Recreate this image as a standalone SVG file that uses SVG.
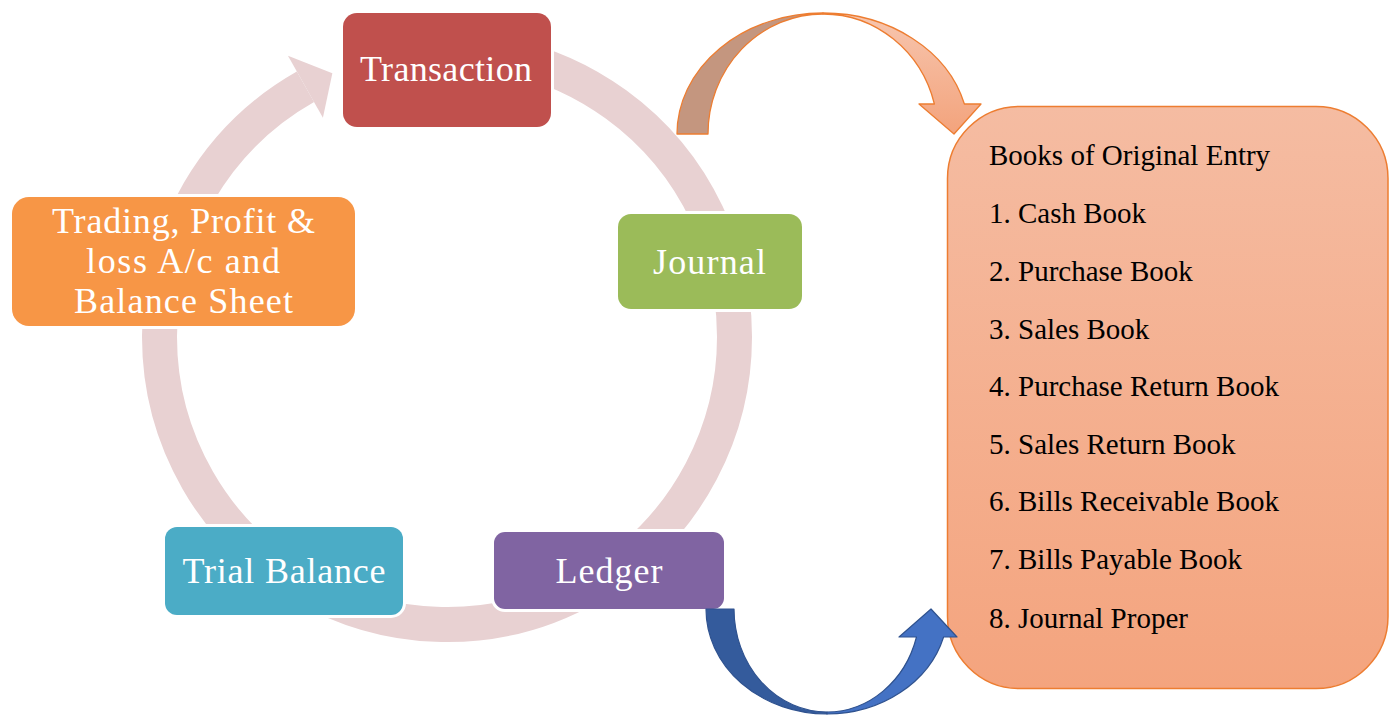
<svg xmlns="http://www.w3.org/2000/svg" width="1393" height="715" viewBox="0 0 1393 715">
  <style>
    .node rect { stroke: #ffffff; stroke-width: 6; paint-order: stroke; }
    .label { font-family: "Liberation Serif", "Times New Roman", serif; font-size: 36px; fill: #ffffff; text-anchor: middle; }
    .book { font-family: "Liberation Serif", "Times New Roman", serif; font-size: 29px; fill: #000000; }
    .ring { fill: none; stroke: #e8d1d2; stroke-width: 35; }
  </style>
  <defs>
    <linearGradient id="peach" x1="0" y1="106" x2="0" y2="689" gradientUnits="userSpaceOnUse">
      <stop offset="0" stop-color="#f5bca2"/>
      <stop offset="1" stop-color="#f4a47e"/>
    </linearGradient>
    <linearGradient id="peachArrow" x1="0" y1="13" x2="0" y2="134" gradientUnits="userSpaceOnUse">
      <stop offset="0" stop-color="#f7c6af"/>
      <stop offset="1" stop-color="#f3a37c"/>
    </linearGradient>
  </defs>

  <!-- cycle connectors: ring behind the nodes, arrowhead ends before Transaction -->
  <g id="connectors">
    <path class="ring" d="M358.16,63.57 A287.5,287.5 0 0 1 734.5,337 A287.5,287.5 0 0 1 303.25,585.98 A287.5,287.5 0 0 1 305.43,86.77"/>
    <polygon fill="#e8d1d2" points="287.95,55.87 332.36,73.34 322.91,117.67"/>
  </g>

  <!-- cycle nodes -->
  <g id="node-transaction" class="node">
    <rect x="343" y="13" width="208" height="114" rx="14" fill="#c0504d"/>
    <text class="label" x="446" y="81" textLength="172" lengthAdjust="spacing">Transaction</text>
  </g>
  <g id="node-journal" class="node">
    <rect x="618" y="214" width="184" height="95" rx="13" fill="#9bbb59"/>
    <text class="label" x="709.5" y="274" textLength="113" lengthAdjust="spacing">Journal</text>
  </g>
  <g id="node-ledger" class="node">
    <rect x="494" y="532" width="230" height="77" rx="11" fill="#8064a2"/>
    <text class="label" x="609" y="583" textLength="107" lengthAdjust="spacing">Ledger</text>
  </g>
  <g id="node-trial-balance" class="node">
    <rect x="165" y="527" width="238" height="88" rx="12" fill="#4bacc6"/>
    <text class="label" x="284" y="583" textLength="203" lengthAdjust="spacing">Trial Balance</text>
  </g>
  <g id="node-final-accounts" class="node">
    <rect x="12" y="197" width="343" height="129" rx="17" fill="#f79646"/>
    <text class="label" x="183.5" y="233" textLength="263" lengthAdjust="spacing">Trading, Profit &amp;</text>
    <text class="label" x="183" y="273" textLength="194" lengthAdjust="spacing">loss A/c and</text>
    <text class="label" x="183.5" y="313" textLength="219" lengthAdjust="spacing">Balance Sheet</text>
  </g>

  <!-- list of subsidiary books -->
  <g id="node-books">
    <rect x="947.5" y="106.5" width="440.5" height="582" rx="72" fill="url(#peach)" stroke="#ed7d31" stroke-width="1.5"/>
    <text class="book" x="989" y="165">Books of Original Entry</text>
    <text class="book" x="989" y="223">1. Cash Book</text>
    <text class="book" x="989" y="280.5">2. Purchase Book</text>
    <text class="book" x="989" y="338.5">3. Sales Book</text>
    <text class="book" x="989" y="396">4. Purchase Return Book</text>
    <text class="book" x="989" y="453.5">5. Sales Return Book</text>
    <text class="book" x="989" y="511">6. Bills Receivable Book</text>
    <text class="book" x="989" y="569">7. Bills Payable Book</text>
    <text class="book" x="989" y="628">8. Journal Proper</text>
  </g>

  <!-- curved arrows linking the cycle with the books -->
  <g id="curved-arrows">
    <g id="arrow-journal-books" stroke="#ed7d31" stroke-width="1.3" stroke-linejoin="round">
      <path fill="#c4967f" d="M677,134 A146,121 0 0 1 823,13 L823,14 A115,120 0 0 0 708,134 Z"/>
      <path fill="url(#peachArrow)" d="M823,13 A146,121 0 0 1 964.4,104 L981,104 L954,134 L919,104 L934.4,104 A115,120 0 0 0 823,14 Z"/>
    </g>
    <g id="arrow-ledger-books" stroke="#2f528f" stroke-width="1.2" stroke-linejoin="round">
      <path fill="#345b9c" d="M706,609 A121,105 0 0 0 827,714 L827,712 A93,103 0 0 1 734,609 Z"/>
      <path fill="#4472c4" d="M827,714 A121,105 0 0 0 943.6,637 L957,637 L931,609 L899,637 L916.5,637 A93,103 0 0 1 827,712 Z"/>
    </g>
  </g>
</svg>
